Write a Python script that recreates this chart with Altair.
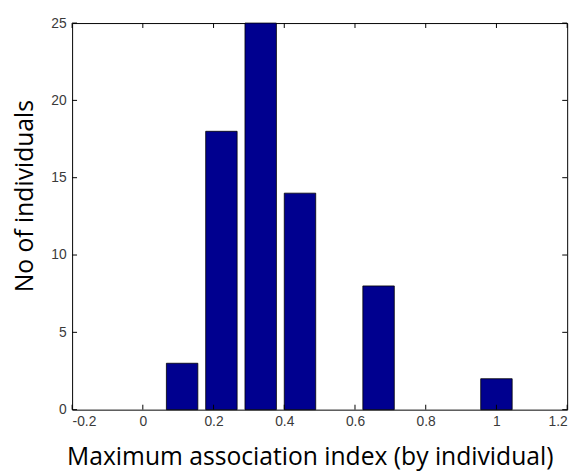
import altair as alt
import pandas as pd

# bin centers (MATLAB hist, 9 bins) and counts
bin_centers = [1/9, 2/9, 3/9, 4/9, 5/9, 6/9, 7/9, 8/9, 1.0]
counts = [3, 18, 25, 14, 0, 8, 0, 0, 2]
x_ticks = [-0.2, 0, 0.2, 0.4, 0.6, 0.8, 1.0, 1.2]
y_ticks = [0, 5, 10, 15, 20, 25]

bars_df = pd.DataFrame({"center": bin_centers, "count": counts})
bars_df = bars_df[bars_df["count"] > 0]
xt_df = pd.DataFrame({"v": x_ticks})
yt_df = pd.DataFrame({"v": y_ticks})

W, H = 502, 392
bw = 0.8 * (1 / 9)

xscale = alt.Scale(domain=[-0.2, 1.2], nice=False, zero=False)
yscale = alt.Scale(domain=[0, 25], nice=False)

label_font = "Liberation Sans"
title_font = "Open Sans"

bars = alt.Chart(bars_df).transform_calculate(
    x0=f"datum.center - {bw/2}", x1=f"datum.center + {bw/2}"
).mark_rect(color="#00008F", stroke="#000000", strokeWidth=0.8).encode(
    x=alt.X("x0:Q", scale=xscale,
            axis=alt.Axis(values=x_ticks, domain=False, ticks=False, grid=False,
                          labelExpr="replace(format(datum.value, '.1~f'), '\u2212', '-')",
                          labelFont=label_font, labelFontSize=14, labelColor="#3a3a3a",
                          labelPadding=5,
                          title="Maximum association index (by individual)",
                          titleFont=title_font, titleFontSize=25, titleFontWeight="normal",
                          titleColor="#000000", titleX=241, titleY=56, titleBaseline="alphabetic",
                          titleAnchor="middle", titleAlign="center")),
    x2="x1:Q",
    y=alt.Y("count:Q", scale=yscale,
            axis=alt.Axis(values=y_ticks, domain=False, ticks=False, grid=False,
                          labelFont=label_font, labelFontSize=14, labelColor="#3a3a3a",
                          labelPadding=6,
                          title="No of individuals",
                          titleFont=title_font, titleFontSize=25, titleFontWeight="normal",
                          titleColor="#000000", titleX=-48, titleY=175,
                          titleBaseline="middle", titleAlign="center", titleAngle=270)),
    y2=alt.datum(0),
)

tick_len = 5
xb = alt.Chart(xt_df).mark_rule(color="black", strokeWidth=1).encode(
    x=alt.X("v:Q", scale=xscale), y=alt.value(H), y2=alt.value(H - tick_len))
xt = alt.Chart(xt_df).mark_rule(color="black", strokeWidth=1).encode(
    x=alt.X("v:Q", scale=xscale), y=alt.value(0), y2=alt.value(tick_len))
yl = alt.Chart(yt_df).mark_rule(color="black", strokeWidth=1).encode(
    y=alt.Y("v:Q", scale=yscale), x=alt.value(0), x2=alt.value(tick_len))
yr = alt.Chart(yt_df).mark_rule(color="black", strokeWidth=1).encode(
    y=alt.Y("v:Q", scale=yscale), x=alt.value(W), x2=alt.value(W - tick_len))

chart = alt.layer(bars, xb, xt, yl, yr).properties(
    width=W, height=H,
    autosize=alt.AutoSizeParams(type="none"),
    padding={"left": 65, "top": 12, "right": 12, "bottom": 64},
    background="white",
).configure_view(stroke="black", strokeWidth=1)

chart.save("out.html", embed_options={"renderer": "svg", "actions": False})
